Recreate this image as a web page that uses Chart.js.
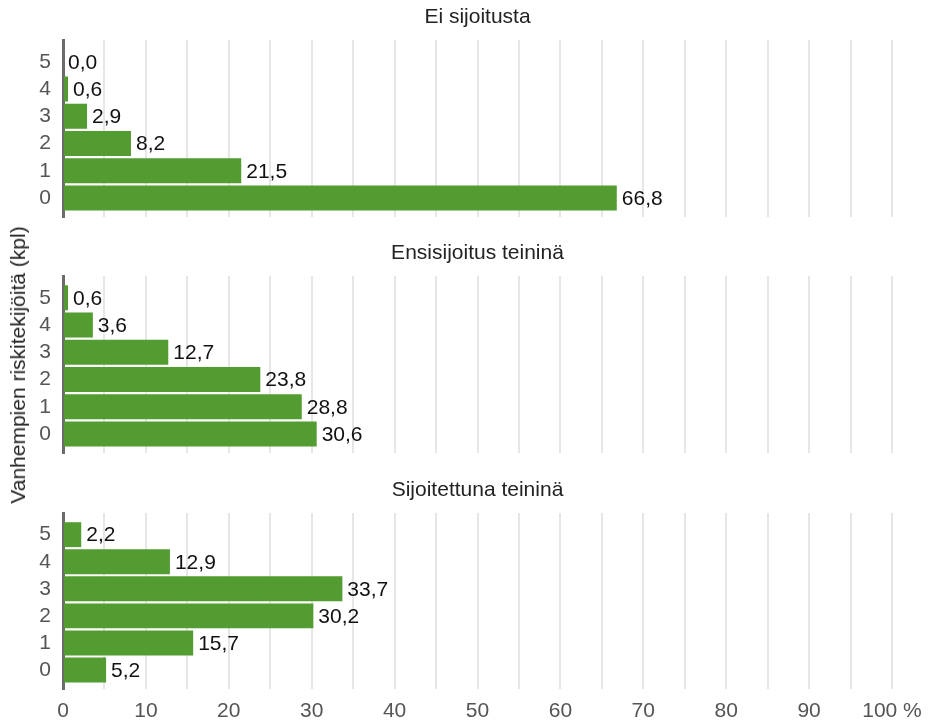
<!DOCTYPE html>
<html>
<head>
<meta charset="utf-8">
<script src="https://cdn.jsdelivr.net/npm/chart.js@4/dist/chart.umd.min.js"></script>
<style>
  body { margin: 0; background: #fff; }
  #wrap { position: relative; width: 939px; height: 723px; }
  .panel { position: absolute; left: 0; width: 939px; }
  #ytitle {
    position: absolute; left: 18px; top: 365px;
    transform: translate(-50%, -50%) rotate(-90deg);
    white-space: nowrap; font: 21px "Liberation Sans", Arial, sans-serif; color: #222;
  }
</style>
</head>
<body>
<div id="wrap">
  <div class="panel" style="top:0;height:237px"><canvas id="p1"></canvas></div>
  <div class="panel" style="top:236px;height:237px"><canvas id="p2"></canvas></div>
  <div class="panel" style="top:473px;height:250px"><canvas id="p3"></canvas></div>
  <div id="ytitle">Vanhempien riskitekijöitä (kpl)</div>
</div>
<script>
// risk factor counts (y categories)
const riskCounts = [0, 1, 2, 3, 4, 5];

const panelTitles = ['Ei sijoitusta', 'Ensisijoitus teininä', 'Sijoitettuna teininä'];

// shares in %, same order as riskCounts
const eiSijoitusta = [66.8, 21.5, 8.2, 2.9, 0.6, 0.0];
const ensisijoitus = [30.6, 28.8, 23.8, 12.7, 3.6, 0.6];
const sijoitettuna = [5.2, 15.7, 30.2, 33.7, 12.9, 2.2];

const xTickLabels = [0, 10, 20, 30, 40, 50, 60, 70, 80, 90, '100 %'];

Chart.defaults.font.family = '"Liberation Sans", Arial, sans-serif';
Chart.defaults.animation = false;

const fmt = v => v.toFixed(1).replace('.', ',');

// value labels at the bar ends
const barLabels = {
  id: 'barLabels',
  afterDatasetsDraw(chart) {
    const ctx = chart.ctx;
    const meta = chart.getDatasetMeta(0);
    const data = chart.data.datasets[0].data;
    ctx.save();
    ctx.font = '21px "Liberation Sans", Arial, sans-serif';
    ctx.fillStyle = '#111';
    ctx.textAlign = 'left';
    ctx.textBaseline = 'middle';
    meta.data.forEach((bar, i) => {
      ctx.fillText(fmt(data[i].x), bar.x + 5, bar.y + 1);
    });
    ctx.restore();
  },
};

function makePanel(id, title, values, showXTicks) {
  const points = riskCounts.map((c, i) => ({ x: values[i], y: c }));
  return new Chart(document.getElementById(id), {
    type: 'bar',
    data: {
      datasets: [
        {
          data: points,
          backgroundColor: '#529c31',
          barPercentage: 0.92,
          categoryPercentage: 1,
        },
      ],
    },
    plugins: [barLabels],
    options: {
      indexAxis: 'y',
      responsive: true,
      maintainAspectRatio: false,
      layout: { padding: { left: 0, right: 47, top: 0, bottom: 0 } },
      plugins: {
        legend: { display: false },
        tooltip: { enabled: false },
        title: {
          display: true,
          text: title,
          fullSize: false,
          color: '#222',
          font: { size: 21, weight: 'normal' },
          padding: { top: 5, bottom: 9.8 },
        },
      },
      scales: {
        x: {
          type: 'linear',
          min: 0,
          max: 100,
          afterFit: s => { s.height = showXTicks ? 34 : 20; },
          grid: { color: '#e6e6e6', lineWidth: 2, drawTicks: false },
          border: { display: false },
          ticks: {
            display: showXTicks,
            stepSize: 5,
            autoSkip: false,
            maxRotation: 0,
            padding: 10,
            color: '#555',
            font: { size: 21 },
            callback: v => (v % 10 === 0 ? xTickLabels[v / 10] : ''),
          },
        },
        y: {
          type: 'linear',
          min: -0.7,
          max: 5.8,
          offset: false,
          afterFit: s => {
            s.width = 63;
            s.paddingTop = 0;
            s.paddingBottom = 0;
          },
          afterBuildTicks: s => { s.ticks = riskCounts.map(v => ({ value: v })); },
          grid: { display: false, drawTicks: false, offset: false },
          border: { display: true, color: '#6b6b6b', width: 3 },
          ticks: {
            autoSkip: false,
            padding: 12,
            color: '#555',
            font: { size: 21 },
            callback: v => String(v),
          },
        },
      },
    },
  });
}

makePanel('p1', panelTitles[0], eiSijoitusta, false);
makePanel('p2', panelTitles[1], ensisijoitus, false);
makePanel('p3', panelTitles[2], sijoitettuna, true);
</script>
</body>
</html>
